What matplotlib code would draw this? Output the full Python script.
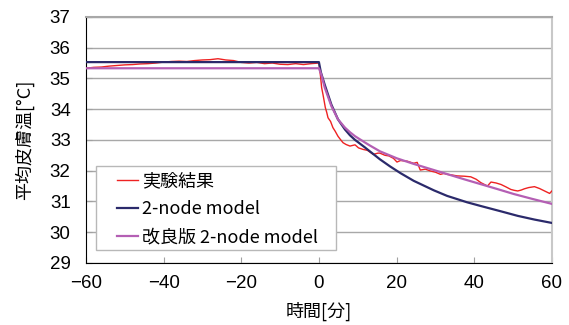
import matplotlib
matplotlib.use("Agg")
import matplotlib.pyplot as plt
from matplotlib.patches import Rectangle

plt.rcParams['font.family'] = ['Noto Sans CJK JP', 'DejaVu Sans']

# 実験結果 (時間[分], 平均皮膚温[°C])
exp_t = [-60, -58, -56, -54, -52, -50, -48, -46, -44, -42, -40, -38, -36, -34,
         -32, -30, -28, -26, -24, -22, -20, -18, -16, -14, -12, -10, -8, -6,
         -4, -2, 0,
         0.2, 0.45, 0.7, 1.04, 1.3, 1.65, 2.0, 2.34, 3.0, 3.6, 4.2, 4.9, 5.5,
         6.2, 7.0, 8.0, 9.3, 10.2, 11.4, 12.5, 14, 15.2, 15.7, 17, 18, 19.2,
         20.1, 21, 22.7, 24.4, 25.3, 26.1, 27.4, 28.7, 30, 31.3, 32.2, 33,
         34.2, 35.6, 37.4, 39.1, 40.5, 41.7, 43.4, 44.3, 45.6, 46.9, 48.2,
         49.4, 50.3, 51.2, 52.1, 52.9, 54, 55.5, 56.8, 58.1, 59.4, 60]
exp_T = [35.33, 35.36, 35.37, 35.40, 35.42, 35.44, 35.45, 35.47, 35.48, 35.50,
         35.53, 35.55, 35.56, 35.55, 35.58, 35.60, 35.61, 35.64, 35.60, 35.58,
         35.52, 35.50, 35.52, 35.48, 35.50, 35.46, 35.45, 35.48, 35.45, 35.48,
         35.50,
         35.30, 35.02, 34.70, 34.48, 34.30, 34.05, 33.90, 33.72, 33.60, 33.40,
         33.28, 33.12, 33.02, 32.91, 32.85, 32.80, 32.84, 32.74, 32.69, 32.66,
         32.53, 32.57, 32.57, 32.50, 32.48, 32.40, 32.28, 32.33, 32.31, 32.24,
         32.27, 32.02, 32.05, 31.99, 31.95, 31.88, 31.91, 31.88, 31.86, 31.83,
         31.82, 31.80, 31.72, 31.61, 31.50, 31.63, 31.60, 31.55, 31.47, 31.39,
         31.36, 31.34, 31.37, 31.41, 31.45, 31.48, 31.42, 31.34, 31.26, 31.34]

# 2-node model
m2_t = [-60, 0, 0.5, 1.48, 3.2, 4.9, 6.7, 8, 9.3, 11.8, 13.1, 15.7, 18.3, 21,
        24.4, 29.6, 33, 38.2, 41.7, 46.8, 51.2, 55.5, 60]
m2_T = [35.53, 35.53, 35.20, 34.80, 34.15, 33.67, 33.34, 33.15, 33.00, 32.76,
        32.63, 32.37, 32.14, 31.92, 31.67, 31.36, 31.18, 30.97, 30.85, 30.68,
        30.53, 30.41, 30.30]

# 改良版 2-node model
mk_t = [-60, 0, 0.6, 1.5, 3.2, 4.9, 6.7, 8, 9.3, 11.8, 13.1, 15.7, 20.1, 24.4,
        29.6, 33, 37.4, 41.7, 46, 50.2, 55, 60]
mk_T = [35.33, 35.33, 35.13, 34.70, 34.10, 33.67, 33.40, 33.25, 33.12, 32.92,
        32.82, 32.63, 32.40, 32.22, 32.02, 31.89, 31.72, 31.56, 31.40, 31.24,
        31.08, 30.92]

fig = plt.figure(figsize=(5.69, 3.25), dpi=100)
ax = fig.add_axes([0.151, 0.191, 0.819, 0.757])

ax.plot(exp_t, exp_T, color='#ee2222', lw=1.0, label='実験結果', zorder=3)
ax.plot(m2_t, m2_T, color='#2b2a6b', lw=1.6, label='2-node model', zorder=4)
ax.plot(mk_t, mk_T, color='#b45fb4', lw=1.6, label='改良版 2-node model', zorder=5)

ax.set_xlim(-60, 60)
ax.set_ylim(29, 37)
ax.set_xticks(range(-60, 61, 20))
ax.set_yticks(range(29, 38))
ax.yaxis.grid(True, color='#a8a8a8', lw=1.0)
ax.set_axisbelow(True)

ax.spines['left'].set_color('black')
ax.spines['bottom'].set_color('black')
ax.spines['top'].set_color('#a8a8a8')
ax.spines['right'].set_color('#c8c8c8')
ax.spines['top'].set_linewidth(1.5)
ax.spines['right'].set_linewidth(1.5)
ax.tick_params(direction='in', length=4, color='#a0a0a0', labelsize=13.5)
ax.tick_params(axis='x', pad=9)
ax.tick_params(axis='y', pad=11)
for lbl in ax.get_xticklabels() + ax.get_yticklabels():
    lbl.set_family(['Liberation Sans', 'DejaVu Sans'])

ax.set_xlabel('時間[分]', fontsize=13, labelpad=7)
ax.set_ylabel('平均皮膚温[°C]', fontsize=13, labelpad=11)

# 凡例の枠
ax.add_patch(Rectangle((0.0215, 0.053), 0.5145, 0.341, transform=ax.transAxes,
                       facecolor='white', edgecolor='#b8b8b8', lw=1.0, zorder=6))
leg = ax.legend(loc='center left', bbox_to_anchor=(0.066, 0.218), borderaxespad=0,
                frameon=False, fontsize=13, handlelength=1.2, handletextpad=0.2,
                labelspacing=0.55, borderpad=0)
leg.set_zorder(7)

fig.savefig('out.png', dpi=100)
